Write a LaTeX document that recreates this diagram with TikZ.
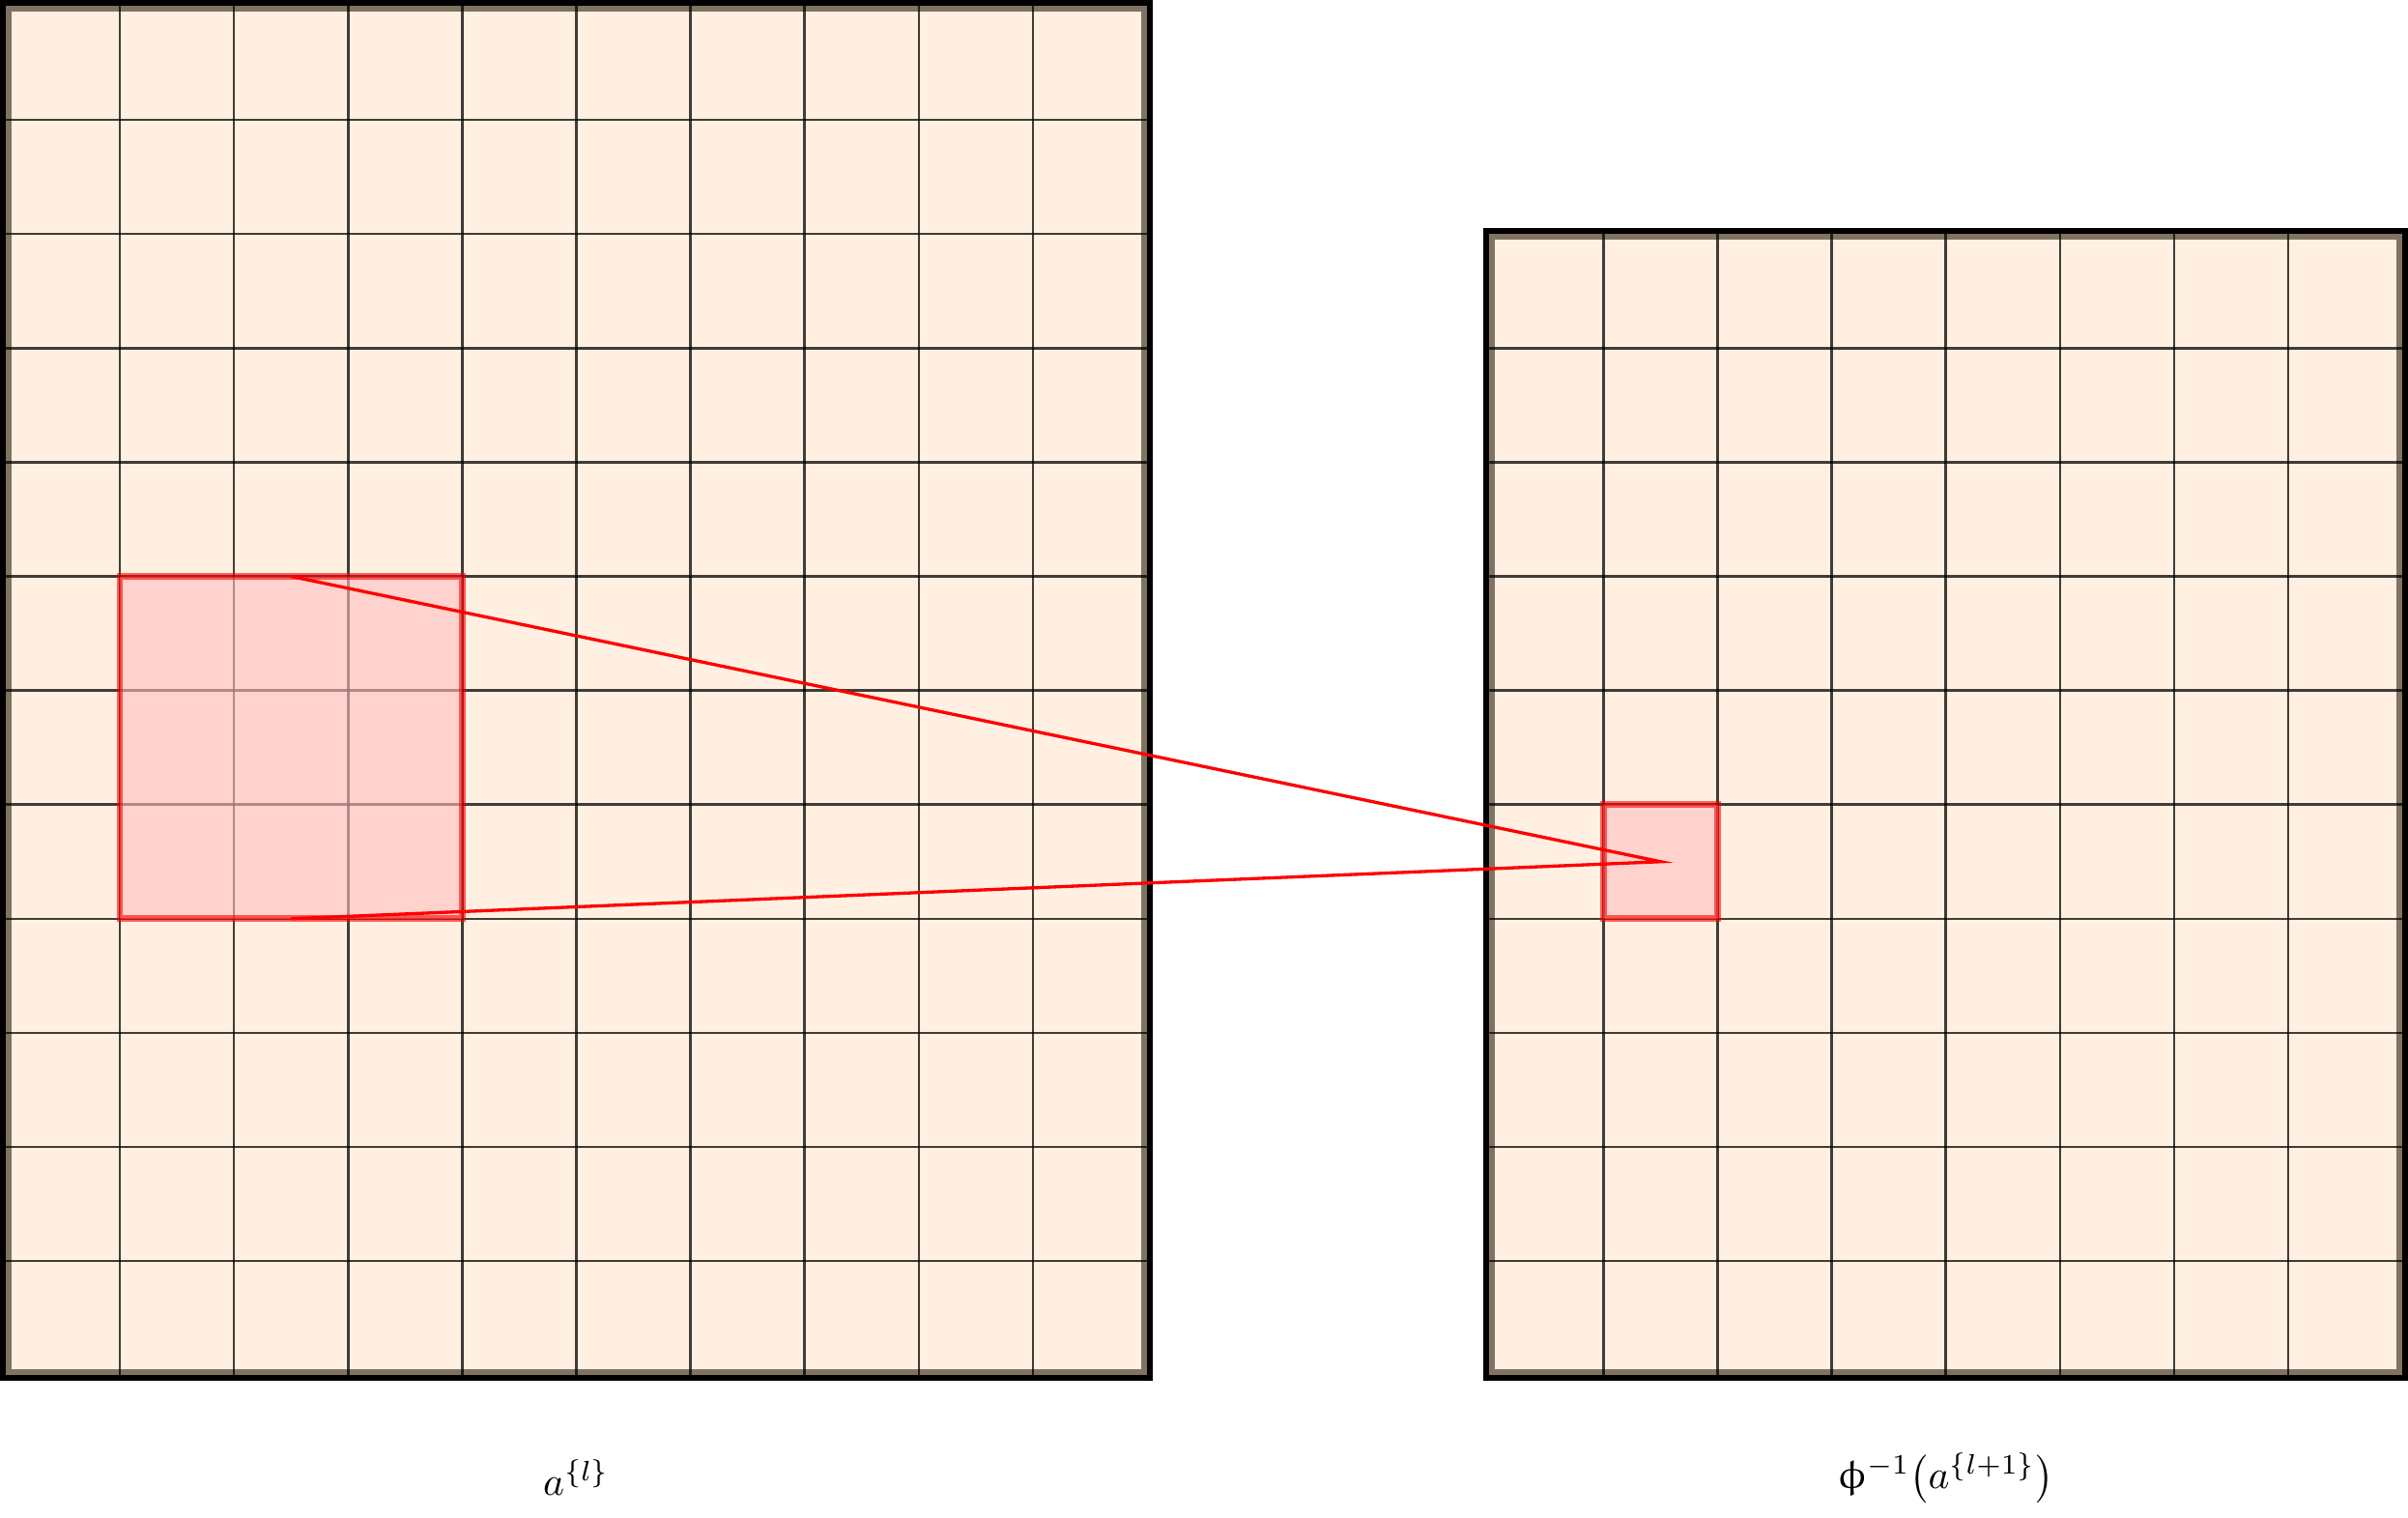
\documentclass[tikz,border=0pt]{standalone}
\usepackage{upgreek}
\begin{document}
\begin{tikzpicture}[x=1cm,y=1cm,
  cellfill/.style={fill={rgb,255:red,255;green,240;blue,225}},
  frameouter/.style={draw=black,line width=2.9pt},
  frameinner/.style={draw={rgb,255:red,128;green,115;blue,100},line width=1.45pt},
  gridline/.style={draw=black,draw opacity=0.75,line width=0.6pt},
  redbox/.style={draw=red,draw opacity=0.6,line width=1.6pt,fill={rgb,255:red,255;green,190;blue,192},fill opacity=0.6},
  cone/.style={draw=red,line width=0.8pt,line join=miter},
  lbl/.style={inner sep=0pt}]
\useasboundingbox (-0.051,-1.243) rectangle (21.05,12.051);
% left grid
\fill[cellfill] (0,0) rectangle (10,12);
\draw[frameouter] (0,0) rectangle (10,12);
\draw[frameinner] ([shift={(0.725pt,0.725pt)}]0,0) rectangle ([shift={(-0.725pt,-0.725pt)}]10,12);
\begin{scope}
\clip (0,0) rectangle (10,12);
\foreach \i in {1,...,9} \draw[gridline] (\i,0) -- (\i,12);
\foreach \j in {1,...,11} \draw[gridline] (0,\j) -- (10,\j);
\end{scope}
% right grid
\fill[cellfill] (13,0) rectangle (21,10);
\draw[frameouter] (13,0) rectangle (21,10);
\draw[frameinner] ([shift={(0.725pt,0.725pt)}]13,0) rectangle ([shift={(-0.725pt,-0.725pt)}]21,10);
\begin{scope}
\clip (13,0) rectangle (21,10);
\foreach \i in {14,...,20} \draw[gridline] (\i,0) -- (\i,10);
\foreach \j in {1,...,9} \draw[gridline] (13,\j) -- (21,\j);
\end{scope}
% receptive field boxes
\draw[redbox] (1,4) rectangle (4,7);
\draw[redbox] (14,4) rectangle (15,5);
% cone
\coordinate (rfTop) at (2.5,7);
\coordinate (rfBot) at (2.5,4);
\coordinate (apex) at (14.5,4.5);
\draw[cone] (rfTop) -- (apex) -- (rfBot);
% labels
\node[lbl] (labL) at (5,-0.9) {$a^{\{l\}}$};
\node[lbl] (labR) at (17,-0.9) {$\upphi^{-1}\bigl(a^{\{l+1\}}\bigr)$};
\end{tikzpicture}
\end{document}
